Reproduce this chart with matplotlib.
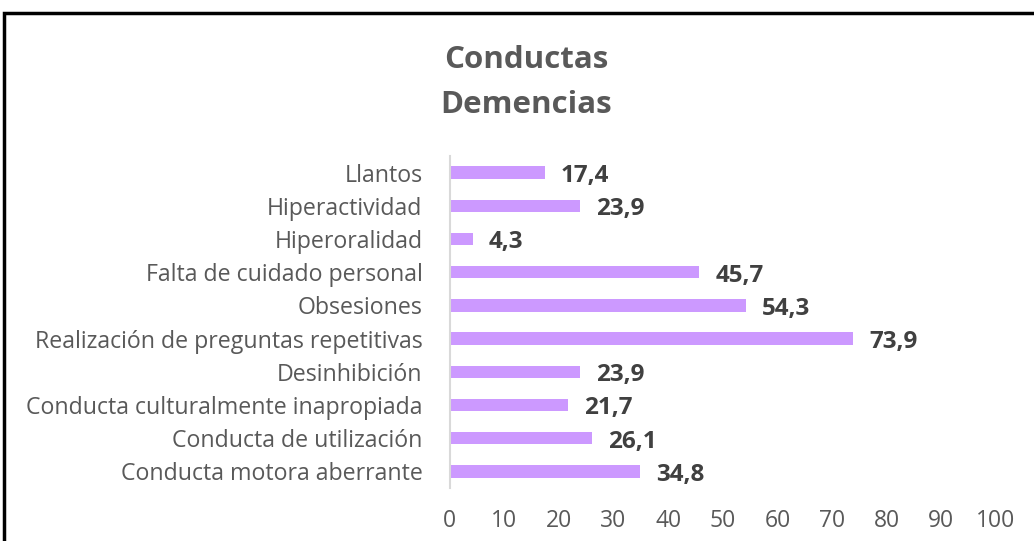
import matplotlib
matplotlib.use("Agg")
import matplotlib.pyplot as plt
from matplotlib.patches import Rectangle

categories = ["Llantos", "Hiperactividad", "Hiperoralidad", "Falta de cuidado personal",
              "Obsesiones", "Realización de preguntas repetitivas", "Desinhibición",
              "Conducta culturalmente inapropiada", "Conducta de utilización",
              "Conducta motora aberrante"]
values = [17.4, 23.9, 4.3, 45.7, 54.3, 73.9, 23.9, 21.7, 26.1, 34.8]
xticks = [0, 10, 20, 30, 40, 50, 60, 70, 80, 90, 100]

plt.rcParams['font.family'] = ['Open Sans', 'DejaVu Sans']

W, H = 1034, 541
fig = plt.figure(figsize=(W/100, H/100), dpi=100)
ax = fig.add_axes([449.5/W, 1-488/H, (996-449.5)/W, (488-156)/H])

n = len(categories)
ypos = list(range(n))[::-1]
ax.barh(ypos, values, height=0.37, color="#CC99FF", edgecolor="none")
ax.set_ylim(-0.5, n-0.5)
ax.set_xlim(0, 100)
ax.set_yticks(ypos)
ax.set_yticklabels(categories, fontsize=16.7, color="#595959")
ax.set_xticks(xticks)
ax.set_xticklabels([str(t) for t in xticks], fontsize=16.5, color="#595959")
ax.tick_params(axis='both', length=0)
ax.tick_params(axis='y', pad=19.5)
ax.tick_params(axis='x', pad=15)
for s in ['top', 'right', 'bottom']:
    ax.spines[s].set_visible(False)
ax.spines['left'].set_color("#D9D9D9")
ax.spines['left'].set_linewidth(1.5)

for y, v in zip(ypos, values):
    ax.annotate(f"{v:.1f}".replace(".", ","), xy=(v, y), xytext=(11.5, -2.5),
                textcoords="offset points", ha="left", va="center",
                fontsize=17.5, fontweight="bold", color="#404040")

fig.text(526/W, 1-68/H, "Conductas", ha="center", va="baseline", fontsize=22.5,
         fontweight="bold", color="#595959")
fig.text(526/W, 1-113/H, "Demencias", ha="center", va="baseline", fontsize=22.5,
         fontweight="bold", color="#595959")

fig.patches.append(Rectangle((4/W, -0.05), 1.1, 1-13/H+0.05, transform=fig.transFigure,
                             fill=False, edgecolor="black", linewidth=2.5, clip_on=False))

fig.savefig("out.png", dpi=100)
